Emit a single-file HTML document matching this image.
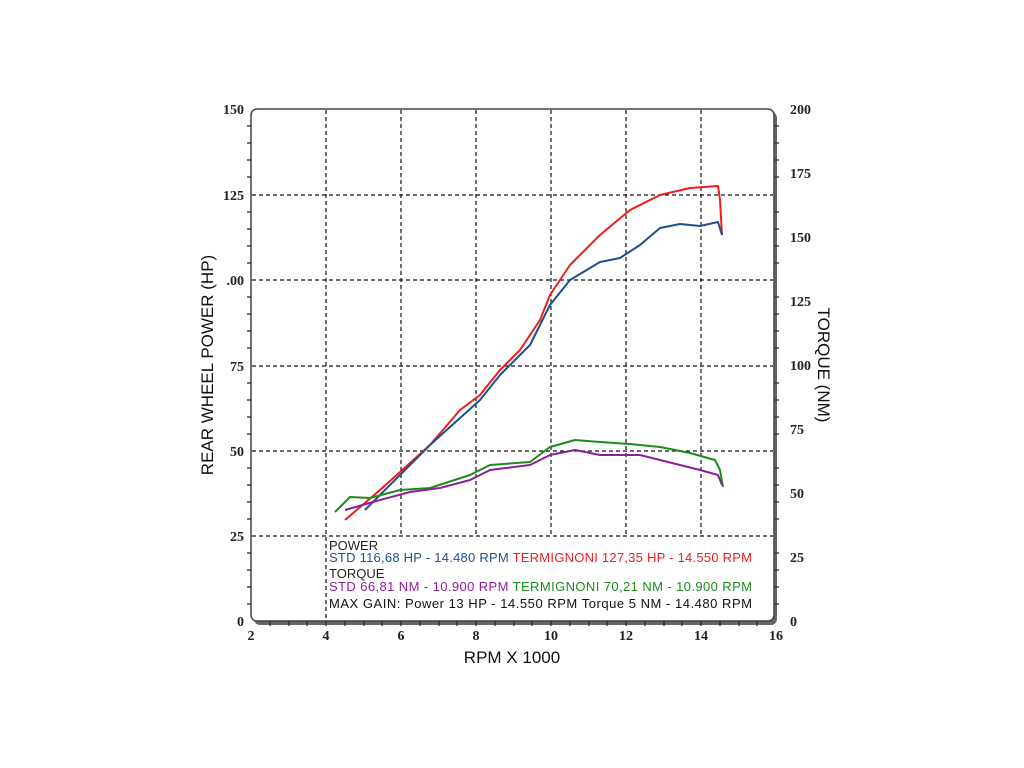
<!DOCTYPE html>
<html><head><meta charset="utf-8"><style>body{margin:0;background:#fff}svg{display:block}</style></head><body>
<svg width="1024" height="768" xmlns="http://www.w3.org/2000/svg" font-family="Liberation Sans, sans-serif">
<rect width="1024" height="768" fill="#fff"/>
<rect x="254" y="112" width="523" height="513" rx="6" fill="#666"/>
<rect x="251" y="109" width="523" height="512" rx="6" fill="#fff" stroke="#444" stroke-width="1.5"/>
<g stroke="#111" stroke-dasharray="4,3" stroke-width="1.2">
<line x1="326" y1="110" x2="326" y2="620"/><line x1="401" y1="110" x2="401" y2="536"/><line x1="476" y1="110" x2="476" y2="536"/><line x1="551" y1="110" x2="551" y2="536"/><line x1="626" y1="110" x2="626" y2="536"/><line x1="701" y1="110" x2="701" y2="536"/>
<line x1="252" y1="195" x2="773" y2="195"/><line x1="252" y1="280" x2="773" y2="280"/><line x1="252" y1="366" x2="773" y2="366"/><line x1="252" y1="451" x2="773" y2="451"/><line x1="252" y1="536" x2="773" y2="536"/>
</g>
<g stroke="#222" stroke-width="1.2">
<path d="M247 126h4M247 143h4M247 160h4M247 177h4M247 212h4M247 229h4M247 246h4M247 263h4M247 297h4M247 314h4M247 331h4M247 348h4M247 383h4M247 400h4M247 417h4M247 434h4M247 468h4M247 485h4M247 502h4M247 519h4M247 553h4M247 570h4M247 587h4M247 604h4"/>
<path d="M775 126h4M775 143h4M775 160h4M775 177h4M775 212h4M775 229h4M775 246h4M775 263h4M775 297h4M775 314h4M775 331h4M775 348h4M775 383h4M775 400h4M775 417h4M775 434h4M775 468h4M775 485h4M775 502h4M775 519h4M775 553h4M775 570h4M775 587h4M775 604h4"/>
<path d="M270 621v5M289 621v5M307 621v5M326 621v5M345 621v5M364 621v5M382 621v5M401 621v5M420 621v5M439 621v5M457 621v5M476 621v5M495 621v5M514 621v5M532 621v5M551 621v5M570 621v5M589 621v5M607 621v5M626 621v5M645 621v5M664 621v5M682 621v5M701 621v5M720 621v5M739 621v5M757 621v5"/>
</g>
<g font-family="Liberation Serif, serif" font-weight="bold" font-size="14" fill="#222" text-anchor="end">
<text x="244" y="114">150</text><text x="244" y="200">125</text><text x="244" y="285">.00</text><text x="244" y="371">75</text><text x="244" y="456">50</text><text x="244" y="541">25</text><text x="244" y="626">0</text>
</g>
<g font-family="Liberation Serif, serif" font-weight="bold" font-size="14" fill="#222">
<text x="790" y="114">200</text><text x="790" y="178">175</text><text x="790" y="242">150</text><text x="790" y="306">125</text><text x="790" y="370">100</text><text x="790" y="434">75</text><text x="790" y="498">50</text><text x="790" y="562">25</text><text x="790" y="626">0</text>
</g>
<g font-family="Liberation Serif, serif" font-weight="bold" font-size="14" fill="#222" text-anchor="middle">
<text x="251" y="640">2</text><text x="326" y="640">4</text><text x="401" y="640">6</text><text x="476" y="640">8</text><text x="551" y="640">10</text><text x="626" y="640">12</text><text x="701" y="640">14</text><text x="776" y="640">16</text>
</g>
<text x="512" y="663" font-size="17" text-anchor="middle" fill="#111">RPM X 1000</text>
<text transform="translate(213,365) rotate(-90)" font-size="17" text-anchor="middle" fill="#111">REAR WHEEL POWER (HP)</text>
<text transform="translate(818,365) rotate(90)" font-size="17" text-anchor="middle" fill="#111">TORQUE (NM)</text>
<g fill="none" stroke-width="2" stroke-linejoin="round">
<polyline stroke="#ee1c1c" points="345,520 380,490 400,472 430,445 460,410 480,395 500,370 520,350 540,320 550,295 570,265 600,235 630,210 660,195 690,188 718,186 720,200 722,235"/>
<polyline stroke="#1f4f8f" points="365,510 400,475 430,445 480,400 500,375 530,345 550,305 570,280 600,262 620,258 640,245 660,228 680,224 700,226 718,222 722,235"/>
<polyline stroke="#1e8a1e" points="335,512 350,497 370,498 400,490 430,488 470,475 490,465 530,462 550,447 575,440 600,442 630,444 660,447 690,453 715,460 720,470 723,487"/>
<polyline stroke="#8b1f9b" points="345,510 380,500 410,492 440,488 470,480 490,470 530,465 550,455 575,450 600,455 640,455 660,460 700,470 718,475 722,485"/>
</g>
<g font-size="13">
<text x="329" y="550" fill="#222">POWER</text>
<text x="329" y="562" fill="#1f4f8f" textLength="423" lengthAdjust="spacing">STD 116,68 HP - 14.480 RPM <tspan fill="#ee1c1c">TERMIGNONI 127,35 HP - 14.550 RPM</tspan></text>
<text x="329" y="578" fill="#222">TORQUE</text>
<text x="329" y="591" fill="#8b1f9b" textLength="423" lengthAdjust="spacing">STD  66,81 NM - 10.900 RPM <tspan fill="#1e8a1e">TERMIGNONI  70,21 NM - 10.900 RPM</tspan></text>
<text x="329" y="608" fill="#111" textLength="423" lengthAdjust="spacing">MAX GAIN: Power 13 HP - 14.550 RPM    Torque    5 NM - 14.480 RPM</text>
</g>
</svg>
</body></html>
